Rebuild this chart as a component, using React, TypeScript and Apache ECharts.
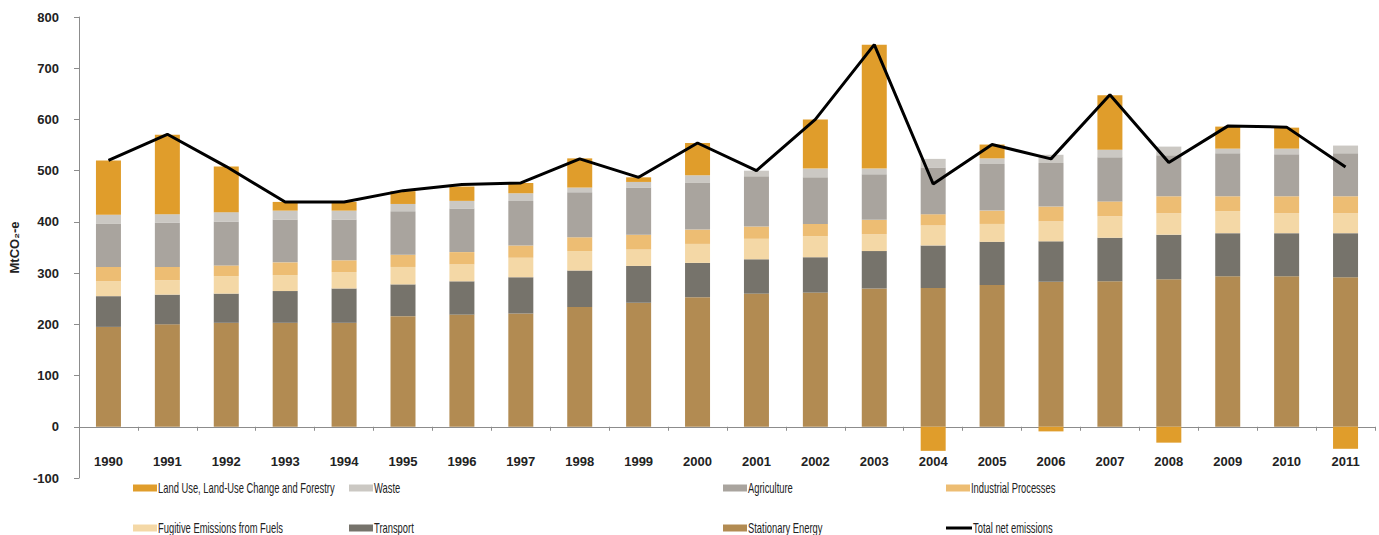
import React, { useEffect, useRef } from "react";
import * as echarts from "echarts";

const years = ["1990","1991","1992","1993","1994","1995","1996","1997","1998","1999","2000","2001","2002","2003","2004","2005","2006","2007","2008","2009","2010","2011"];

const stationaryEnergy = [195,200,203,203,203,216,219,221,234,242,253,260,262,270,271,277,283,284,288,294,294,292];
const transport = [60,58,57,62,67,62,65,71,71,72,67,67,69,73,83,84,79,85,87,84,84,86];
const fugitive = [29,28,34,31,32,34,33,38,38,32,37,40,41,33,39,35,39,42,42,43,39,39];
const industrial = [28,26,21,25,23,24,24,24,27,29,28,24,24,28,22,26,29,29,33,29,33,33];
const agriculture = [84,87,86,83,79,85,85,87,88,92,91,98,91,89,91,91,85,86,80,84,82,84];
const waste = [18,16,18,18,18,14,15,15,9,11,15,11,17,11,17,11,16,15,17,9,11,15];
const lulucf = [106,155,89,17,17,25,28,20,57,9,63,0,96,242,-47,27,-9,106,-31,43,41,-43];
const totalNet = [520,571,508,439,439,461,473,476,523,487,554,500,600,746,474,551,523,648,516,587,585,507];

const yTicks = { min: -100, max: 800, interval: 100 };

const N_LULUCF = "Land Use, Land-Use Change and Forestry";
const N_WASTE = "Waste";
const N_AGRI = "Agriculture";
const N_IND = "Industrial Processes";
const N_FUG = "Fugitive Emissions from Fuels";
const N_TRANS = "Transport";
const N_STAT = "Stationary Energy";
const N_TOTAL = "Total net emissions";

const colors: Record<string, string> = {
  [N_LULUCF]: "#E09D2B",
  [N_WASTE]: "#CBC8C3",
  [N_AGRI]: "#A9A49E",
  [N_IND]: "#EDBD73",
  [N_FUG]: "#F4D8A6",
  [N_TRANS]: "#76736B",
  [N_STAT]: "#B28B52",
  [N_TOTAL]: "#000000",
};

// legend layout: [name, swatchX, rowY]
const legendItems: [string, number, number][] = [
  [N_LULUCF, 133, 488],
  [N_WASTE, 349, 488],
  [N_AGRI, 723, 488],
  [N_IND, 946, 488],
  [N_FUG, 133, 528],
  [N_TRANS, 349, 528],
  [N_STAT, 723, 528],
  [N_TOTAL, 946, 528],
];

function legendGraphics() {
  const els: any[] = [];
  legendItems.forEach(([name, x, y]) => {
    const isLine = name === N_TOTAL;
    const h = isLine ? 3 : 7;
    els.push({
      type: "rect",
      shape: { x, y: y - h / 2, width: isLine ? 26 : 24, height: h },
      style: { fill: colors[name] },
      silent: true,
    });
    els.push({
      type: "text",
      x: x + (isLine ? 27 : 25),
      y,
      scaleX: 0.67,
      style: {
        text: name,
        fill: "#222",
        fontSize: 14,
        fontFamily: "'Liberation Sans', Arial, sans-serif",
        verticalAlign: "middle",
        align: "left",
      },
      silent: true,
    });
  });
  return els;
}

export default function App() {
  const ref = useRef<HTMLDivElement>(null);
  useEffect(() => {
    const chart = echarts.init(ref.current!, null, { renderer: "svg" });
    const barSeries = (name: string, data: number[]) => ({
      name,
      type: "bar",
      stack: "total",
      barWidth: 25,
      data,
      itemStyle: { color: colors[name] },
    });
    const option: any = {
      animation: false,
      backgroundColor: "#ffffff",
      grid: { left: 77, right: 4, top: 17, bottom: 57, containLabel: false },
      graphic: legendGraphics(),
      xAxis: {
        type: "category",
        data: years,
        axisLine: { onZero: true, lineStyle: { color: "#8c8c8c", width: 1 } },
        axisTick: { show: true, length: 4, lineStyle: { color: "#8c8c8c" } },
        axisLabel: {
          margin: -23,
          fontFamily: "'Liberation Sans', Arial, sans-serif",
          fontWeight: "bold",
          fontSize: 13,
          color: "#222",
        },
        splitLine: { show: false },
      },
      yAxis: {
        type: "value",
        min: yTicks.min,
        max: yTicks.max,
        interval: yTicks.interval,
        name: "MtCO₂-e",
        nameLocation: "middle",
        nameGap: 58,
        nameTextStyle: {
          fontFamily: "'Liberation Sans', Arial, sans-serif",
          fontWeight: "bold",
          fontSize: 13,
          color: "#222",
        },
        axisLine: { show: true, lineStyle: { color: "#8c8c8c", width: 1 } },
        axisTick: { show: true, length: 5, lineStyle: { color: "#8c8c8c" } },
        axisLabel: {
          margin: 20,
          fontFamily: "'Liberation Sans', Arial, sans-serif",
          fontWeight: "bold",
          fontSize: 13,
          color: "#222",
        },
        splitLine: { show: false },
      },
      series: [
        barSeries(N_STAT, stationaryEnergy),
        barSeries(N_TRANS, transport),
        barSeries(N_FUG, fugitive),
        barSeries(N_IND, industrial),
        barSeries(N_AGRI, agriculture),
        barSeries(N_WASTE, waste),
        barSeries(N_LULUCF, lulucf),
        {
          name: N_TOTAL,
          type: "line",
          data: totalNet,
          symbol: "none",
          z: 5,
          lineStyle: { color: "#000", width: 3 },
          itemStyle: { color: "#000" },
        },
      ],
    };
    chart.setOption(option);
    return () => chart.dispose();
  }, []);
  return (
    <div
      ref={ref}
      style={{ position: "fixed", left: 0, top: 0, width: 1379, height: 535, background: "#fff" }}
    />
  );
}
